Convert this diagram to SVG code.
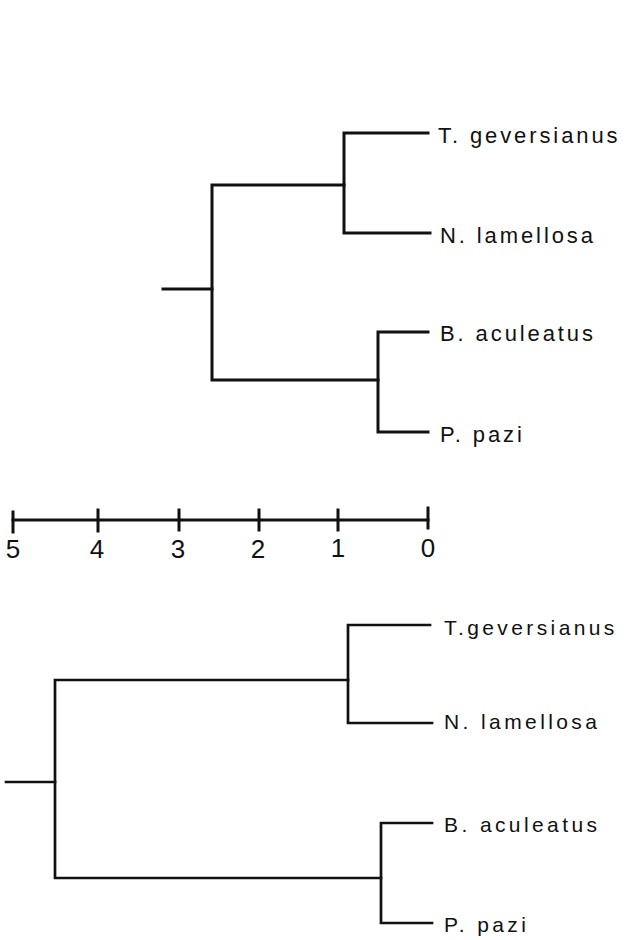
<svg xmlns="http://www.w3.org/2000/svg" width="626" height="940" viewBox="0 0 626 940">
<style>
.br{fill:none;stroke:#111;stroke-width:3;stroke-linecap:square;stroke-linejoin:miter}
.br2{fill:none;stroke:#111;stroke-width:2.7;stroke-linecap:square;stroke-linejoin:miter}
.lab{font-family:"Liberation Sans",Arial,sans-serif;font-size:22px;letter-spacing:2.9px;fill:#111}
.lab2{font-family:"Liberation Sans",Arial,sans-serif;font-size:21px;letter-spacing:3.4px;fill:#111}
.num{font-family:"Liberation Sans",Arial,sans-serif;font-size:26px;fill:#111;text-anchor:middle}
</style>
<rect width="626" height="940" fill="#fff"/>
<g id="connectors">
<g id="top-tree">
<path class="br" d="M163,289 H212"/>
<path class="br" d="M344,185 H212 V380 H378"/>
<path class="br" d="M428,133 H344 V233 H430"/>
<path class="br" d="M428,332 H378 V432 H428"/>
</g>
<g id="scale-bar">
<path class="br" d="M13,520 H428"/>
<path class="br" d="M13,512 V532 M98,510 V531 M179,510 V530 M259,510 V530 M338,510 V530 M428,508 V528"/>
</g>
<g id="bottom-tree">
<path class="br2" d="M6,782 H55"/>
<path class="br2" d="M348,680 H55 V878 H381"/>
<path class="br2" d="M430,625 H348 V723 H432"/>
<path class="br2" d="M432,823 H381 V923 H432"/>
</g>
</g>
<g id="top-labels">
<g id="t1"><text class="lab" x="438" y="143">T. geversianus</text></g>
<g id="t2"><text class="lab" x="440" y="243">N. lamellosa</text></g>
<g id="t3"><text class="lab" x="440" y="341">B. aculeatus</text></g>
<g id="t4"><text class="lab" x="440" y="442">P. pazi</text></g>
</g>
<g id="scale-labels">
<text class="num" x="13" y="558">5</text>
<text class="num" x="97" y="558">4</text>
<text class="num" x="178" y="558">3</text>
<text class="num" x="258" y="558">2</text>
<text class="num" x="338" y="557">1</text>
<text class="num" x="428" y="557">0</text>
</g>
<g id="bottom-labels">
<g id="b1"><text class="lab2" x="444" y="635">T.geversianus</text></g>
<g id="b2"><text class="lab2" x="444" y="729">N. lamellosa</text></g>
<g id="b3"><text class="lab2" x="444" y="832">B. aculeatus</text></g>
<g id="b4"><text class="lab2" x="444" y="932">P. pazi</text></g>
</g>
</svg>
